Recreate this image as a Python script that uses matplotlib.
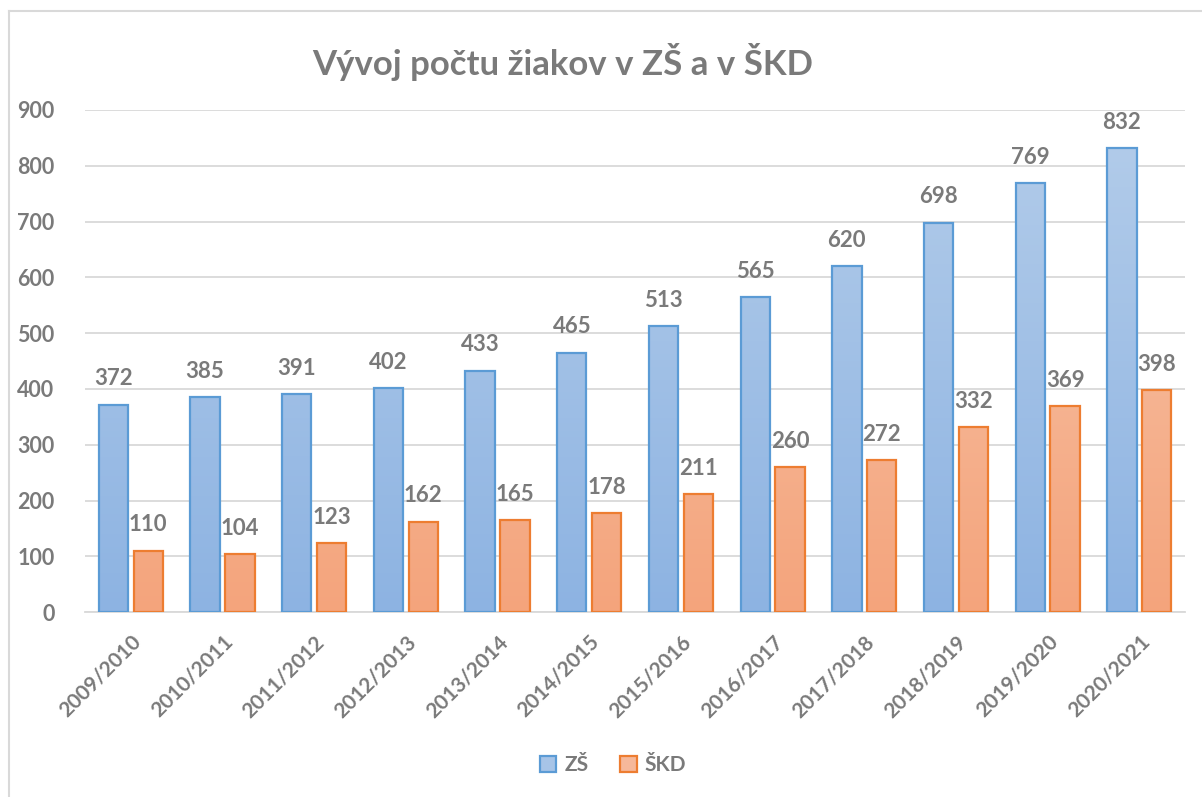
import matplotlib.pyplot as plt
import matplotlib.colors as mcolors
from matplotlib.patches import Patch
import numpy as np

years = ["2009/2010", "2010/2011", "2011/2012", "2012/2013", "2013/2014", "2014/2015",
         "2015/2016", "2016/2017", "2017/2018", "2018/2019", "2019/2020", "2020/2021"]
zs = [372, 385, 391, 402, 433, 465, 513, 565, 620, 698, 769, 832]
skd = [110, 104, 123, 162, 165, 178, 211, 260, 272, 332, 369, 398]

plt.rcParams['font.family'] = ['Lato', 'DejaVu Sans']
plt.rcParams['font.weight'] = 'bold'
gray = '#7a7a7a'

fig = plt.figure(figsize=(12.02, 7.97), dpi=100)
ax = fig.add_axes([0.0707, 0.232, 0.9153, 0.630])

x = np.arange(len(years))
w = 0.32
off = 0.19

def grad_bars(xpos, vals, top_c, bot_c, edge):
    bars = ax.bar(xpos, vals, w, color='none', edgecolor=edge, linewidth=1.6, zorder=3)
    cmap = mcolors.LinearSegmentedColormap.from_list('g', [bot_c, top_c])
    grad = np.linspace(0, 1, 256).reshape(-1, 1)
    for b in bars:
        bx, bw = b.get_x(), b.get_width()
        # gradient spans the full axis height like Excel's fill
        im = ax.imshow(grad, cmap=cmap, origin='lower', aspect='auto',
                       extent=[bx, bx + bw, 0, 900], zorder=2)
        im.set_clip_path(b)
    return bars

grad_bars(x - off, zs, '#b4cdea', '#8db3e2', '#5b9bd5')
grad_bars(x + off, skd, '#f8c7ad', '#f4a47c', '#ed7d31')

for xi, v in zip(x - off, zs):
    ax.annotate(str(v), (xi, v), xytext=(0, 11), textcoords='offset points',
                ha='center', va='bottom', fontsize=16, color=gray, fontweight='bold')
for xi, v in zip(x + off, skd):
    ax.annotate(str(v), (xi, v), xytext=(0, 11), textcoords='offset points',
                ha='center', va='bottom', fontsize=16, color=gray, fontweight='bold')

ax.set_xlim(-0.5, len(years) - 0.5)
ax.set_ylim(0, 900)
ax.set_yticks(range(0, 901, 100))
ax.set_xticks(x)
ax.set_xticklabels(years, rotation=45, ha='right', rotation_mode='anchor')
ax.tick_params(axis='x', length=0, labelsize=15, labelcolor=gray, pad=14)
ax.tick_params(axis='y', length=0, labelsize=15.5, labelcolor=gray, pad=22)
for lbl in ax.get_xticklabels() + ax.get_yticklabels():
    lbl.set_fontweight('bold')

ax.grid(axis='y', color='#d9d9d9', linewidth=1.3, zorder=0)
ax.set_axisbelow(True)
for s in ['top', 'right', 'left']:
    ax.spines[s].set_visible(False)
ax.spines['bottom'].set_color('#d9d9d9')
ax.spines['bottom'].set_linewidth(1.3)

fig.text(0.468, 0.922, "Vývoj počtu žiakov v ZŠ a v ŠKD", ha='center', va='center',
         fontsize=25, color=gray, fontweight='bold')

handles = [Patch(facecolor='#a7c4e7', edgecolor='#5b9bd5', linewidth=1.6, label='ZŠ'),
           Patch(facecolor='#f6b89a', edgecolor='#ed7d31', linewidth=1.6, label='ŠKD')]
fig.legend(handles=handles, loc='center', bbox_to_anchor=(0.51, 0.04), ncol=2, frameon=False,
           fontsize=15, labelcolor=gray, handlelength=0.8, handleheight=0.8,
           handletextpad=0.4, columnspacing=1.5)

# outer chart border (left and top edges visible)
fig.add_artist(plt.Line2D([0.0075, 0.0075], [0, 0.986], color='#d9d9d9', linewidth=1.5,
                          transform=fig.transFigure))
fig.add_artist(plt.Line2D([0.0075, 1.0], [0.986, 0.986], color='#d9d9d9', linewidth=1.5,
                          transform=fig.transFigure))

fig.savefig('out.png', dpi=100)
